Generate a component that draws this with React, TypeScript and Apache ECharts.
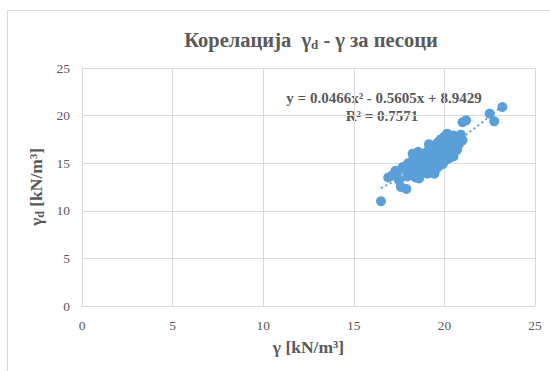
import React, { useEffect, useRef } from "react";
import * as echarts from "echarts";

const gammaX: number[] = [
  16.5, 16.9, 17.1, 17.3, 17.4, 17.5, 17.6, 17.7, 17.8, 17.9, 17.95, 18.1, 18.2, 18.25, 18.35, 18.4,
  18.5, 18.55, 18.6, 18.6, 18.7, 18.75, 18.8, 18.85, 18.9, 18.95, 19.0, 19.0, 19.05, 19.1, 19.15,
  19.2, 19.2, 19.25, 19.3, 19.3, 19.35, 19.4, 19.4, 19.45, 19.5, 19.5, 19.55, 19.6, 19.6, 19.65,
  19.7, 19.7, 19.75, 19.8, 19.8, 19.85, 19.9, 19.9, 19.95, 20.0, 20.0, 20.0, 20.05, 20.1, 20.1,
  20.15, 20.2, 20.2, 20.25, 20.3, 20.3, 20.35, 20.4, 20.45, 20.5, 20.5, 20.6, 20.65, 20.7, 20.8,
  20.9, 21.0, 21.0, 21.2, 22.5, 22.75, 23.2, 18.3, 18.45, 18.65, 19.1, 19.55, 20.55, 18.0,
];
const gammaD: number[] = [
  11.0, 13.5, 13.7, 14.2, 14.0, 13.2, 12.5, 14.6, 14.4, 12.3, 13.6, 14.8, 15.2, 16.0, 15.8, 13.5,
  14.6, 16.2, 15.1, 13.4, 14.0, 15.6, 14.5, 15.3, 16.0, 14.8, 15.5, 14.2, 13.9, 16.3, 17.0,
  15.0, 14.5, 15.8, 16.6, 14.0, 15.3, 16.0, 14.8, 13.9, 15.6, 16.9, 14.4, 16.3, 15.1, 17.2,
  15.8, 14.7, 16.6, 15.4, 17.5, 16.1, 14.9, 16.8, 15.7, 17.8, 16.4, 15.2, 17.0, 15.9, 16.6,
  18.1, 17.4, 16.2, 15.5, 17.7, 16.9, 16.0, 17.2, 16.5, 15.7, 17.9, 16.8, 17.2, 16.4, 17.0,
  18.0, 17.4, 19.3, 19.5, 20.2, 19.4, 20.9, 14.2, 15.5, 14.9, 15.6, 16.0, 16.9, 15.0,
];
// Trendline coefficients shown on the chart: y = a x^2 + b x + c
const trendCoef: number[] = [0.0466, -0.5605, 8.9429];
const trendRange: number[] = [16.5, 23.2];
const xTicks: number[] = [0, 5, 10, 15, 20, 25];
const yTicks: number[] = [0, 5, 10, 15, 20, 25];

const BLUE = "#5a9fd8";
const TXT = "#595959";
const GRID = "#d9d9d9";
const SERIF = "Liberation Serif";

export default function App() {
  const ref = useRef<HTMLDivElement>(null);
  useEffect(() => {
    if (!ref.current) return;
    const chart = echarts.init(ref.current, null, { renderer: "svg" });
    const points = gammaX.map((x, i) => [x, gammaD[i]]);
    const trend: number[][] = [];
    const steps = 40;
    for (let i = 0; i <= steps; i++) {
      const x = trendRange[0] + ((trendRange[1] - trendRange[0]) * i) / steps;
      trend.push([x, trendCoef[0] * x * x + trendCoef[1] * x + trendCoef[2]]);
    }
    chart.setOption({
      animation: false,
      backgroundColor: "#fff",
      textStyle: { fontFamily: SERIF },
      grid: { left: 82, right: 15, top: 68, bottom: 65, containLabel: false },
      xAxis: {
        type: "value",
        min: xTicks[0],
        max: xTicks[xTicks.length - 1],
        interval: 5,
        name: "γ [kN/m³]",
        nameLocation: "middle",
        nameGap: 32,
        nameTextStyle: { fontFamily: SERIF, fontSize: 17.5, fontWeight: "bold", color: TXT },
        axisLine: { show: true, lineStyle: { color: GRID, width: 1 } },
        axisTick: { show: false },
        axisLabel: { fontFamily: SERIF, fontSize: 13.5, color: TXT, margin: 12 },
        splitLine: { show: true, lineStyle: { color: GRID, width: 1 } },
      },
      yAxis: {
        type: "value",
        min: yTicks[0],
        max: yTicks[yTicks.length - 1],
        interval: 5,
        name: "γ{sub|d} [kN/m³]",
        nameLocation: "middle",
        nameGap: 31,
        nameRotate: 90,
        nameTextStyle: {
          fontFamily: SERIF,
          fontSize: 17.5,
          fontWeight: "bold",
          color: TXT,
          rich: {
            sub: { fontFamily: SERIF, fontSize: 12, fontWeight: "bold", color: TXT, padding: [7, 0, 0, 0] },
          },
        },
        axisLine: { show: true, lineStyle: { color: GRID, width: 1 } },
        axisTick: { show: false },
        axisLabel: { fontFamily: SERIF, fontSize: 13.5, color: TXT, margin: 12 },
        splitLine: { show: true, lineStyle: { color: GRID, width: 1 } },
      },
      graphic: [
        {
          type: "rect",
          shape: { x: 7.5, y: 10.5, width: 600, height: 400 },
          style: { fill: "none", stroke: GRID, lineWidth: 1 },
          silent: true,
          z: -1,
        },
        {
          type: "text",
          x: 311,
          y: 40,
          style: {
            text: "Корелација  γ{sub|d} - γ за песоци",
            fontFamily: SERIF,
            fontSize: 20.5,
            fontWeight: "bold",
            fill: TXT,
            align: "center",
            verticalAlign: "middle",
            rich: {
              sub: { fontFamily: SERIF, fontSize: 13, fontWeight: "bold", fill: TXT, padding: [9, 0, 0, 0] },
            },
          },
        },
        {
          type: "text",
          x: 384,
          y: 98,
          style: {
            text: "y = 0.0466x² - 0.5605x + 8.9429",
            fontFamily: SERIF,
            fontSize: 15,
            fontWeight: "bold",
            fill: TXT,
            align: "center",
            verticalAlign: "middle",
          },
        },
        {
          type: "text",
          x: 382,
          y: 116,
          style: {
            text: "R² = 0.7571",
            fontFamily: SERIF,
            fontSize: 15,
            fontWeight: "bold",
            fill: TXT,
            align: "center",
            verticalAlign: "middle",
          },
        },
      ],
      series: [
        {
          type: "line",
          data: trend,
          showSymbol: false,
          smooth: false,
          lineStyle: { color: BLUE, width: 2, type: [2, 3] },
          z: 1,
        },
        {
          type: "scatter",
          data: points,
          symbol: "circle",
          symbolSize: 10,
          itemStyle: { color: BLUE, opacity: 1 },
          z: 2,
        },
      ],
    });
    return () => chart.dispose();
  }, []);
  return (
    <div
      ref={ref}
      style={{ position: "fixed", left: 0, top: 0, width: 550, height: 371 }}
    />
  );
}
